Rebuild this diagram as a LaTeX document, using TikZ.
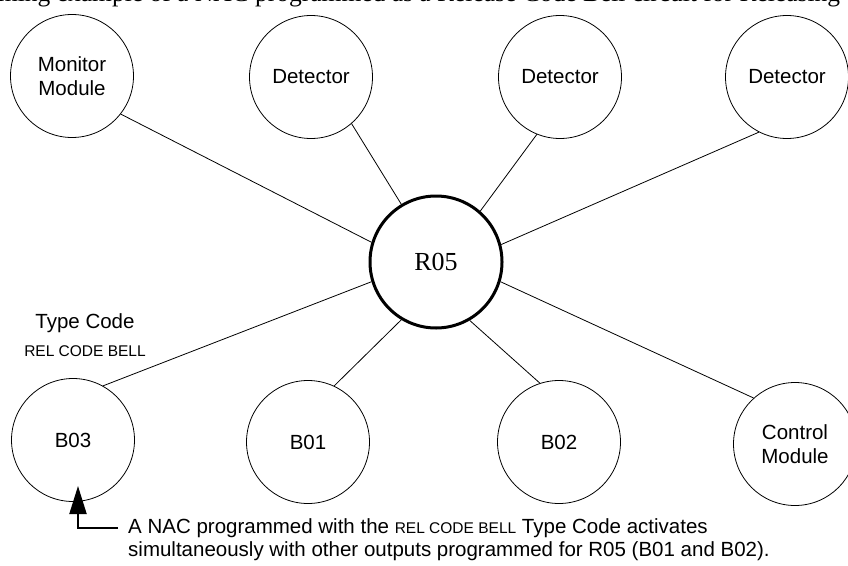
\documentclass[tikz,border=0pt]{standalone}
\usepackage{fontspec}
\setmainfont{Liberation Serif}
\newfontfamily\arialfont{Liberation Sans}
\usetikzlibrary{arrows.meta}
\newcommand{\relbell}{{\fontsize{15.5}{18}\selectfont REL CODE BELL}}

\begin{document}
\begin{tikzpicture}[
  x=1pt, y=-1pt,
  dev/.style  ={draw, circle, line width=0.8pt, minimum size=123pt, inner sep=0pt, align=center,
                font=\arialfont\fontsize{20.5}{24}\selectfont},
  hub/.style  ={draw, circle, line width=3pt, minimum size=132pt, inner sep=0pt,
                font=\fontsize{26}{30}\selectfont},
  link/.style ={line width=0.8pt},
  note/.style ={inner sep=0pt, font=\arialfont\fontsize{20.5}{24}\selectfont},
  ptr/.style  ={-{Triangle[length=28pt, width=17pt]}, line width=2pt}
]
\useasboundingbox (0,0) rectangle (848,565);

% ---- caption line, cut by the page ----
\node[anchor=base west, inner sep=0pt, font=\fontsize{25.5}{30}\selectfont] (cap) at (-22,1)
  {mming example of a NAC programmed as a Release Code Bell circuit for Releasing};

% ---- top row ----
\node[dev] (mon)  at (72,76)  {Monitor\\Module};
\node[dev] (det1) at (311,77) {Detector};
\node[dev] (det2) at (560,77) {Detector};
\node[dev] (det3) at (787,77) {Detector};

% ---- releasing zone ----
\node[hub] (r05) at (436,262) {R05};

% ---- bottom row ----
\node[dev] (b03) at (73,440)  {B03};
\node[dev] (b01) at (308,442) {B01};
\node[dev] (b02) at (559,442) {B02};
\node[dev] (ctl) at (795,444) {Control\\Module};

\draw[link] (mon.-38)   -- (r05.163);
\draw[link] (det1.-49)  -- (r05.121);
\draw[link] (det2.-112) -- (r05.49);
\draw[link] (det3.-117) -- (r05.15);
\draw[link] (b03.61)    -- (r05.197);
\draw[link] (b01.65)    -- (r05.239);
\draw[link] (b02.108)   -- (r05.300);
\draw[link] (ctl.132)   -- (r05.343);

% ---- type code of B03 ----
\node[note] (tc)    at (85,323) {Type Code};
\node[note] (tcval) at (85,351) {\relbell};

% ---- note with pointer ----
\node[note, anchor=west] (nac1) at (128,528) {A NAC programmed with the \relbell{} Type Code activates};
\node[note, anchor=west] (nac2) at (128,551) {simultaneously with other outputs programmed for R05 (B01 and B02).};
\coordinate (tip) at (78,486);
\draw[ptr] ([xshift=-10pt]nac1.west) -| (tip);

\end{tikzpicture}
\end{document}
